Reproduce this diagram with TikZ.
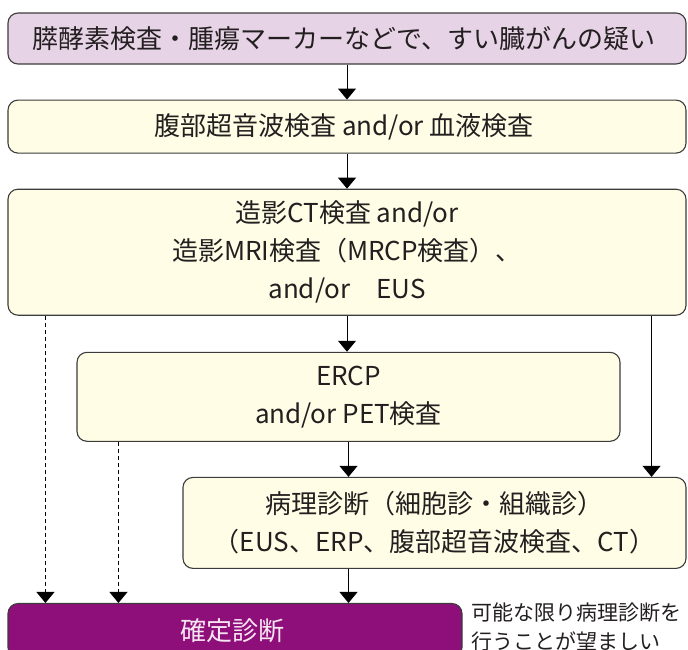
\documentclass[tikz,border=0pt]{standalone}
\usepackage{fontspec}
\setmainfont{Noto Sans CJK JP}
\usetikzlibrary{arrows.meta}
\usetikzlibrary{positioning}
\definecolor{inkgray}{HTML}{231F20}
\definecolor{framegray}{HTML}{3C3C3C}
\definecolor{lilac}{HTML}{E7D3E6}
\definecolor{cream}{HTML}{FFFDE5}
\definecolor{plum}{HTML}{8F0F7A}
\definecolor{pinkwhite}{HTML}{F6E6F2}
\tikzset{
    block/.style={
           rectangle,
           rounded corners=10pt,
           draw=framegray, line width=1.1pt,
           fill=cream,
           text=inkgray,
           inner sep=2pt,
           align=center,
           font=\fontsize{26}{38}\selectfont,
           },
    block2/.style={
           block,
           fill=lilac,
           },
    block3/.style={
           block,
           fill=plum,
           text=pinkwhite,
           },
    frameless/.style={
           inner sep=0pt,
           align=left,
           text=inkgray,
           font=\fontsize{21}{29}\selectfont,
           },
    flow/.style={
           -{Triangle[width=18pt,length=11pt]},
           line width=0.9pt, draw=black,
           },
    dotflow/.style={
           flow,
           line width=1pt,
           dash pattern=on 4pt off 3pt,
           },
}

\begin{document}
\begin{tikzpicture}[x=1pt,y=-1pt]
	\useasboundingbox (0,0) rectangle (688,649);
	\node[block2, minimum width=678pt, minimum height=51pt] (suspect) at (347,38.5) {
		膵酵素検査・腫瘍マーカーなどで、すい臓がんの疑い
	};
	\node[block, minimum width=678pt, minimum height=53pt, below=35pt of suspect] (echo) {
		腹部超音波検査 and/or 血液検査
	};
	\node[block, minimum width=678pt, minimum height=126pt, below=35pt of echo] (ctmri) {
		造影CT検査 and/or\\
		造影MRI検査（MRCP検査）、\\
		and/or　EUS
	};
	\node[block, minimum width=543pt, minimum height=89pt,
		below right=36pt and 69pt of ctmri.south west, anchor=north west] (ercp) {
		ERCP\\
		and/or PET検査
	};
	\node[block, minimum width=503pt, minimum height=91pt,
		below right=35pt and 106pt of ercp.south west, anchor=north west] (patho) {
		病理診断（細胞診・組織診）\\
		（EUS、ERP、腹部超音波検査、CT）
	};
	\node[block3, minimum width=454pt, minimum height=54pt,
		below left=34pt and 175pt of patho.south west, anchor=north west] (diag) {
		確定診断
	};
	\node[frameless, right=9pt of diag, anchor=west, yshift=3pt] (note) {
		可能な限り病理診断を\\
		行うことが望ましい
	};

	\draw[flow] (suspect) -- (echo);
	\draw[flow] (echo) -- (ctmri);
	\draw[flow] (ctmri.south) -- (ctmri.south |- ercp.north);
	\draw[flow] (ercp.south) -- (ercp.south |- patho.north);
	\draw[flow] ([xshift=-35pt]ctmri.south east) -- ([xshift=-35pt]ctmri.south east |- patho.north);
	\draw[flow] (ercp.south |- patho.south) -- (ercp.south |- diag.north);
	\draw[dotflow] ([xshift=38pt]ctmri.south west) -- ([xshift=38pt]ctmri.south west |- diag.north);
	\draw[dotflow] ([xshift=42pt]ercp.south west) -- ([xshift=42pt]ercp.south west |- diag.north);
\end{tikzpicture}
\end{document}
